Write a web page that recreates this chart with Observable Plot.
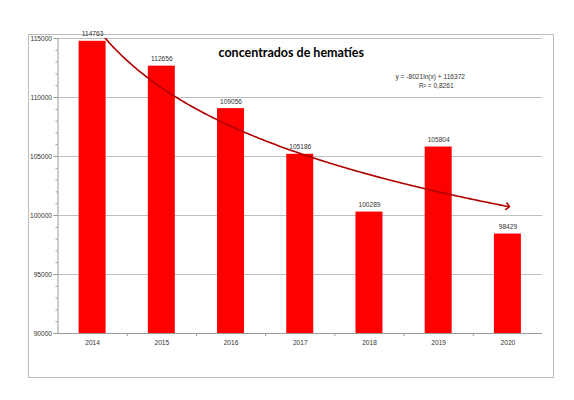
<!DOCTYPE html>
<html>
<head>
<meta charset="utf-8">
<script src="https://cdn.jsdelivr.net/npm/d3@7"></script>
<script src="https://cdn.jsdelivr.net/npm/@observablehq/plot@0.6"></script>
<style>
  html, body { margin: 0; padding: 0; background: #fff; }
  #wrap { position: relative; width: 574px; height: 400px; }
  #box { position: absolute; left: 28px; top: 34px; width: 524px; height: 342px; border: 1px solid #bdbdbd; }
  #chart { position: absolute; left: 0; top: 0; }
</style>
</head>
<body>
<div id="wrap"><div id="box"></div><div id="chart"></div></div>
<script>
const years = ["2014", "2015", "2016", "2017", "2018", "2019", "2020"];
const values = [114763, 112656, 109056, 105186, 100289, 105804, 98429];
const yTicks = [90000, 95000, 100000, 105000, 110000, 115000];
const title = "concentrados de hematíes";
const equation = "y = -8021ln(x) + 116372";
const r2 = "R² = 0,8261";
const trendA = -8021, trendB = 116372;

const data = years.map((year, i) => ({i: i + 1, year, value: values[i]}));
const trend = d3.range(1, 7.0001, 0.02).map(x => ({x, y: trendA * Math.log(x) + trendB}));
const halfBar = 0.195;
const font = "Liberation Sans, Arial, sans-serif";

const chart = Plot.plot({
  width: 574,
  height: 400,
  marginLeft: 57.5,
  marginRight: 32,
  marginTop: 38,
  marginBottom: 67,
  style: {fontFamily: font, background: "transparent"},
  x: {type: "linear", domain: [0.5, 7.5]},
  y: {domain: [90000, 115000]},
  marks: [
    Plot.gridY(yTicks, {stroke: "#bfbfbf", strokeOpacity: 1, strokeWidth: 1}),
    Plot.rectY(data, {x1: d => d.i - halfBar, x2: d => d.i + halfBar, y1: 90000, y2: "value", fill: "#ff0000"}),
    Plot.text(data, {x: "i", y: "value", text: d => String(d.value), dy: -7, fontSize: 6.6, fill: "#333"}),
    Plot.line(trend, {x: "x", y: "y", stroke: "#b00000", strokeWidth: 1.6, clip: true, markerEnd: "arrow"}),
    Plot.axisY({ticks: d3.range(90000, 115001, 1000), tickSize: 2, text: null, stroke: "#999"}),
    Plot.axisY({ticks: yTicks, tickSize: 4, tickPadding: 2, tickFormat: d => String(d), fontSize: 6.6, fill: "#333", stroke: "#999", label: null}),
    Plot.ruleX([0.5], {stroke: "#999"}),
    Plot.ruleY([90000], {stroke: "#999"}),
    Plot.axisX({ticks: d3.range(1.5, 7, 1), tickSize: 3, text: null, stroke: "#999"}),
    Plot.axisX({ticks: data.map(d => d.i), tickSize: 0, tickPadding: 7, tickFormat: i => years[i - 1], fontSize: 6.6, fill: "#333", label: null}),
    Plot.text([title], {frameAnchor: "top", dx: -9, dy: 10, fontSize: 12.5, fontWeight: "bold", fontFamily: "Lato, sans-serif", fill: "#000"}),
    Plot.text([equation], {frameAnchor: "top", dx: 130, dy: 36, fontSize: 6.6, fill: "#333"}),
    Plot.text([r2], {frameAnchor: "top", dx: 136, dy: 45, fontSize: 6.6, fill: "#333"})
  ]
});
document.getElementById("chart").appendChild(chart);
</script>
</body>
</html>
